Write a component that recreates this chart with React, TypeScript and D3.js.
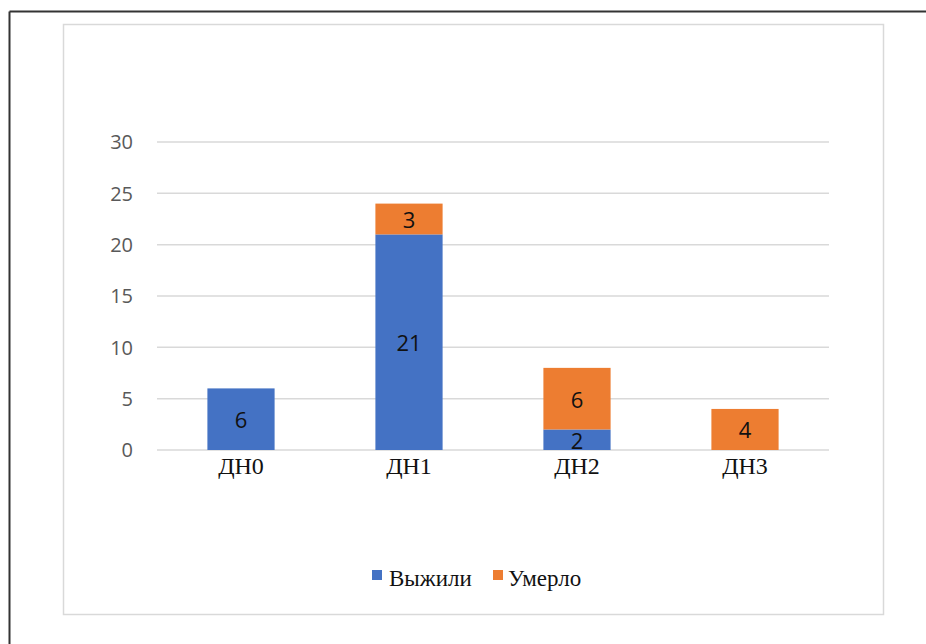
import React from "react";
import * as d3 from "d3";

const categories = ["ДН0", "ДН1", "ДН2", "ДН3"];
const survived = [6, 21, 2, 0];
const died = [0, 3, 6, 4];
const seriesNames = ["Выжили", "Умерло"];
const seriesColors = ["#4472C4", "#ED7D31"];
const yTicks = [0, 5, 10, 15, 20, 25, 30];

export default function App() {
  const W = 926, H = 644;
  const left = 157, right = 829, top = 142, bottom = 450;
  const x = d3.scaleBand().domain(categories).range([left, right]).paddingInner(0.6).paddingOuter(0.3);
  const y = d3.scaleLinear().domain([0, 30]).range([bottom, top]);
  const rows = categories.map((c, i) => ({ cat: c, s: survived[i], d: died[i] }));
  const stacked = d3.stack<any>().keys(["s", "d"])(rows as any);

  return (
    <svg width={W} height={H} style={{ position: "absolute", left: 0, top: 0, background: "#fff" }}>
      <rect x={0} y={0} width={W} height={H} fill="#fff" />
      <line x1={9.5} y1={11.5} x2={W} y2={11.5} stroke="#333" strokeWidth={2} />
      <line x1={9.5} y1={11.5} x2={9.5} y2={H} stroke="#333" strokeWidth={2} />
      <rect x={63.5} y={24.5} width={820} height={590} fill="#fff" stroke="#d9d9d9" strokeWidth={1.5} />
      {yTicks.map((t) => (
        <g key={t}>
          <line x1={left} x2={right} y1={y(t)} y2={y(t)} stroke="#d9d9d9" strokeWidth={1.5} />
          <text x={133} y={y(t)} dy="0.36em" textAnchor="end" fontFamily="Open Sans, sans-serif" fontSize={20} fill="#595959">{t}</text>
        </g>
      ))}
      {stacked.map((layer, li) => (
        <g key={li} fill={seriesColors[li]}>
          {layer.map((p: any, i: number) => {
            const v = p[1] - p[0];
            if (v <= 0) return null;
            return <rect key={i} x={x(categories[i])} y={y(p[1])} width={x.bandwidth()} height={y(p[0]) - y(p[1])} />;
          })}
        </g>
      ))}
      {stacked.map((layer, li) => (
        <g key={"l" + li}>
          {layer.map((p: any, i: number) => {
            const v = p[1] - p[0];
            if (v <= 0) return null;
            return (
              <text key={i} x={(x(categories[i]) as number) + x.bandwidth() / 2} y={y((p[0] + p[1]) / 2) + 1} dy="0.36em" textAnchor="middle" fontFamily="Open Sans, sans-serif" fontSize={22} fill="#111">{v}</text>
            );
          })}
        </g>
      ))}
      {categories.map((c) => (
        <text key={c} x={(x(c) as number) + x.bandwidth() / 2} y={474} textAnchor="middle" fontFamily="Liberation Serif, serif" fontSize={24} fill="#111">{c}</text>
      ))}
      <g>
        <rect x={372} y={570} width={10} height={10} fill={seriesColors[0]} />
        <text x={389} y={586} fontFamily="Liberation Serif, serif" fontSize={23} fill="#111">{seriesNames[0]}</text>
        <rect x={493} y={570} width={10} height={10} fill={seriesColors[1]} />
        <text x={508} y={586} fontFamily="Liberation Serif, serif" fontSize={23} fill="#111">{seriesNames[1]}</text>
      </g>
    </svg>
  );
}
